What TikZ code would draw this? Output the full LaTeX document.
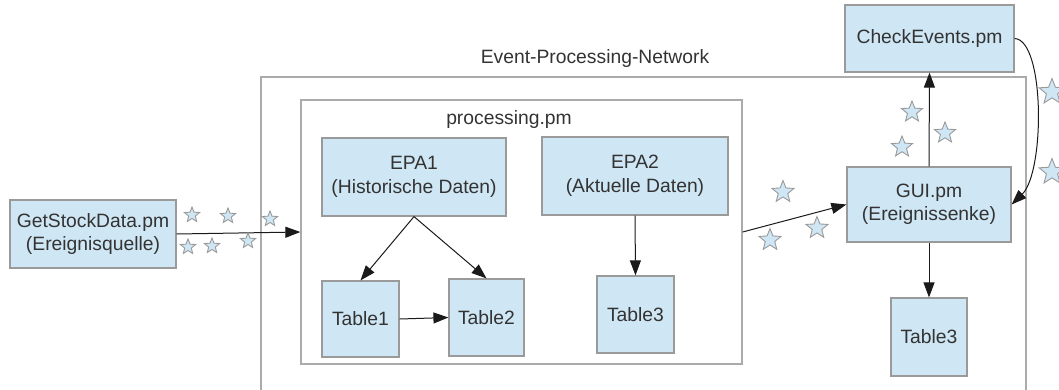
\documentclass[tikz,border=0pt]{standalone}
\usepackage{fontspec}
\setmainfont{Liberation Sans}
\usetikzlibrary{shapes.geometric,arrows.meta}
\definecolor{boxfill}{HTML}{CFE6F4}
\definecolor{boxline}{HTML}{9A9A9A}
\definecolor{frameline}{HTML}{ABABAB}
\definecolor{txt}{HTML}{333333}
\definecolor{conn}{HTML}{1A1A1A}
\tikzset{
  module/.style={draw=boxline, fill=boxfill, line width=1.2pt, text=txt,
    align=center, inner sep=0pt, font=\fontsize{19.3}{23.5}\selectfont},
  frame/.style={draw=frameline, line width=1.3pt},
  flow/.style={draw=conn, line width=1pt, -{Triangle[length=15pt,width=11pt]}},
  event/.style={star, star points=5, star point ratio=2.3, draw=boxline,
    fill=boxfill, line width=0.9pt, inner sep=0pt, minimum size=#1},
  event/.default=16pt,
  caption/.style={text=txt, font=\fontsize{19.3}{23.5}\selectfont}
}
\begin{document}
\begin{tikzpicture}[x=1pt,y=-1pt]
\useasboundingbox (0,0) rectangle (1059,390);
\clip (0,0) rectangle (1059,390);

% containers
\node[frame, minimum width=765pt, minimum height=343pt, inner sep=0pt]
  (epn) at (643.5,248.5) {};
\node[caption] (epnlabel) at (595,59) {Event-Processing-Network};
\node[frame, minimum width=441pt, minimum height=264pt, inner sep=0pt]
  (proc) at (521.5,232) {};
\node[caption] (proclabel) at (509,120) {processing.pm};

% modules
\node[module, minimum width=166pt, minimum height=68pt] (gsd) at (93,234)
  {GetStockData.pm\\(Ereignisquelle)};
\node[module, minimum width=184pt, minimum height=78pt] (epa1) at (414,177)
  {EPA1\\(Historische Daten)};
\node[module, minimum width=186pt, minimum height=78pt] (epa2) at (635,176)
  {EPA2\\(Aktuelle Daten)};
\node[module, minimum width=77pt, minimum height=76pt] (t1) at (360.5,319) {Table1};
\node[module, minimum width=75pt, minimum height=77pt] (t2) at (486.5,317.5) {Table2};
\node[module, minimum width=77pt, minimum height=77pt] (t3) at (635.5,314.5) {Table3};
\node[module, minimum width=164pt, minimum height=75pt] (gui) at (929,204.5)
  {GUI.pm\\(Ereignissenke)};
\node[module, minimum width=169pt, minimum height=67pt] (check) at (929.5,38.5)
  {CheckEvents.pm};
\node[module, minimum width=76pt, minimum height=78pt] (t3b) at (929,337) {Table3};

% connectors
\draw[flow] (gsd.east) -- (proc.west);
\draw[flow] (epa1.south) -- (t1.north);
\draw[flow] (epa1.south) -- (t2.north);
\draw[flow] (t1.east) -- (t2.west);
\draw[flow] (epa2.south) -- (t3.north);
\draw[flow] (proc.east) -- (gui.west);
\draw[flow] (gui.north) -- (check.south);
\draw[flow] (gui.south) -- (t3b.north);
\draw[flow] (check.east) .. controls (1045,40) and (1045,172) .. (gui.east);

% events travelling along the streams
\foreach \p in {(192,215),(228,216),(270,219),(188,247),(212,246),(248,241)}
  \node[event] at \p {};
\foreach \p in {(783,192),(817,228),(770,240)}
  \node[event=23pt] at \p {};
\foreach \p in {(912,112),(902,147),(945,133)}
  \node[event=22pt] at \p {};
\foreach \p in {(1052,92),(1052,172)}
  \node[event=27pt] at \p {};
\end{tikzpicture}
\end{document}
